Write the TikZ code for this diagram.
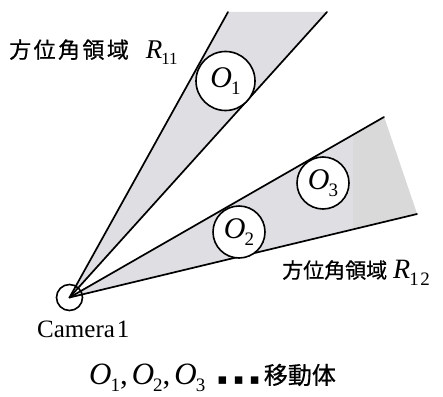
\documentclass[tikz,border=0pt]{standalone}
\usepackage{fontspec}
\setmainfont{Liberation Serif}
\newfontfamily\cjk[FakeBold=0.6]{Noto Sans CJK JP}
\newfontfamily\cjkwide[LetterSpace=11,FakeBold=0.6]{Noto Sans CJK JP}
\newfontfamily\dvs{DejaVu Sans}
\newcommand{\fsz}[1]{\fontsize{#1pt}{#1pt}\selectfont}
\newcommand{\VarSub}[5]{{\rmfamily\fsz{#3}\itshape #1}\kern-1pt\raisebox{-#5pt}{\rmfamily\upshape\fsz{#4}#2}}
\definecolor{wedgegray}{RGB}{222,222,227}
\definecolor{wedgedark}{RGB}{217,217,217}
\begin{document}
\begin{tikzpicture}[x=1pt,y=-1pt,
  edge/.style={line width=1.7pt,line cap=round},
  obj/.style={circle,draw,line width=1.6pt,fill=white,inner sep=0pt,minimum size=#1},
  lbl/.style={anchor=base west,inner sep=0pt}]
\useasboundingbox (0,0) rectangle (443,396);
\coordinate (apex) at (70,298);
\coordinate (a1) at (228,12);
\coordinate (b1) at (327,12);
\coordinate (a2) at (384,117);
\coordinate (b2) at (417,214);
% shaded azimuth regions
\fill[wedgegray] (apex) -- (a1) -- (b1) -- cycle;
\fill[wedgegray] (apex) -- (a2) -- (b2) -- cycle;
\begin{scope}
  \clip (apex) -- (a2) -- (b2) -- cycle;
  \fill[wedgedark] (353,100) rectangle (430,230);
\end{scope}
% camera
\node[circle,draw,line width=1.6pt,minimum size=26pt,inner sep=0pt] (cam) at (69.5,297.5) {};
\draw[edge] (cam.center) -- (a1);
\draw[edge] (cam.center) -- (b1);
\draw[edge] (cam.center) -- (a2);
\draw[edge] (cam.center) -- (b2);
% moving objects
\node[obj=59pt] (o1) at (225.5,81) {\VarSub{O}{1}{30}{19}{7}};
\node[obj=52pt] (o3) at (323,183) {\VarSub{O}{3}{30}{19}{7}};
\node[obj=52pt] (o2) at (239,232) {\VarSub{O}{2}{30}{19}{7}};
% labels
\node[lbl] (r11) at (9,58) {\cjkwide\fsz{22}方位角領域\hspace{17pt}\VarSub{R}{11}{27}{17}{6}};
\node[lbl] (r12) at (282,278) {\cjk\fsz{21}方位角領域\hspace{6pt}\VarSub{R}{1\kern1.5pt 2}{28}{19}{7}};
\node[lbl] (camlbl) at (37,337) {\fsz{25}Camera\kern2pt 1};
\node[lbl] (legend) at (89,384) {\VarSub{O}{1}{31}{19}{7}{\fsz{31},}\kern4pt\VarSub{O}{2}{31}{19}{7}{\fsz{31},}\kern4pt\VarSub{O}{3}{31}{19}{7}\kern12pt{\dvs\fsz{15}▪\kern6pt▪\kern6pt▪}\kern4pt{\cjk\fsz{24}移動体}};
\end{tikzpicture}
\end{document}
